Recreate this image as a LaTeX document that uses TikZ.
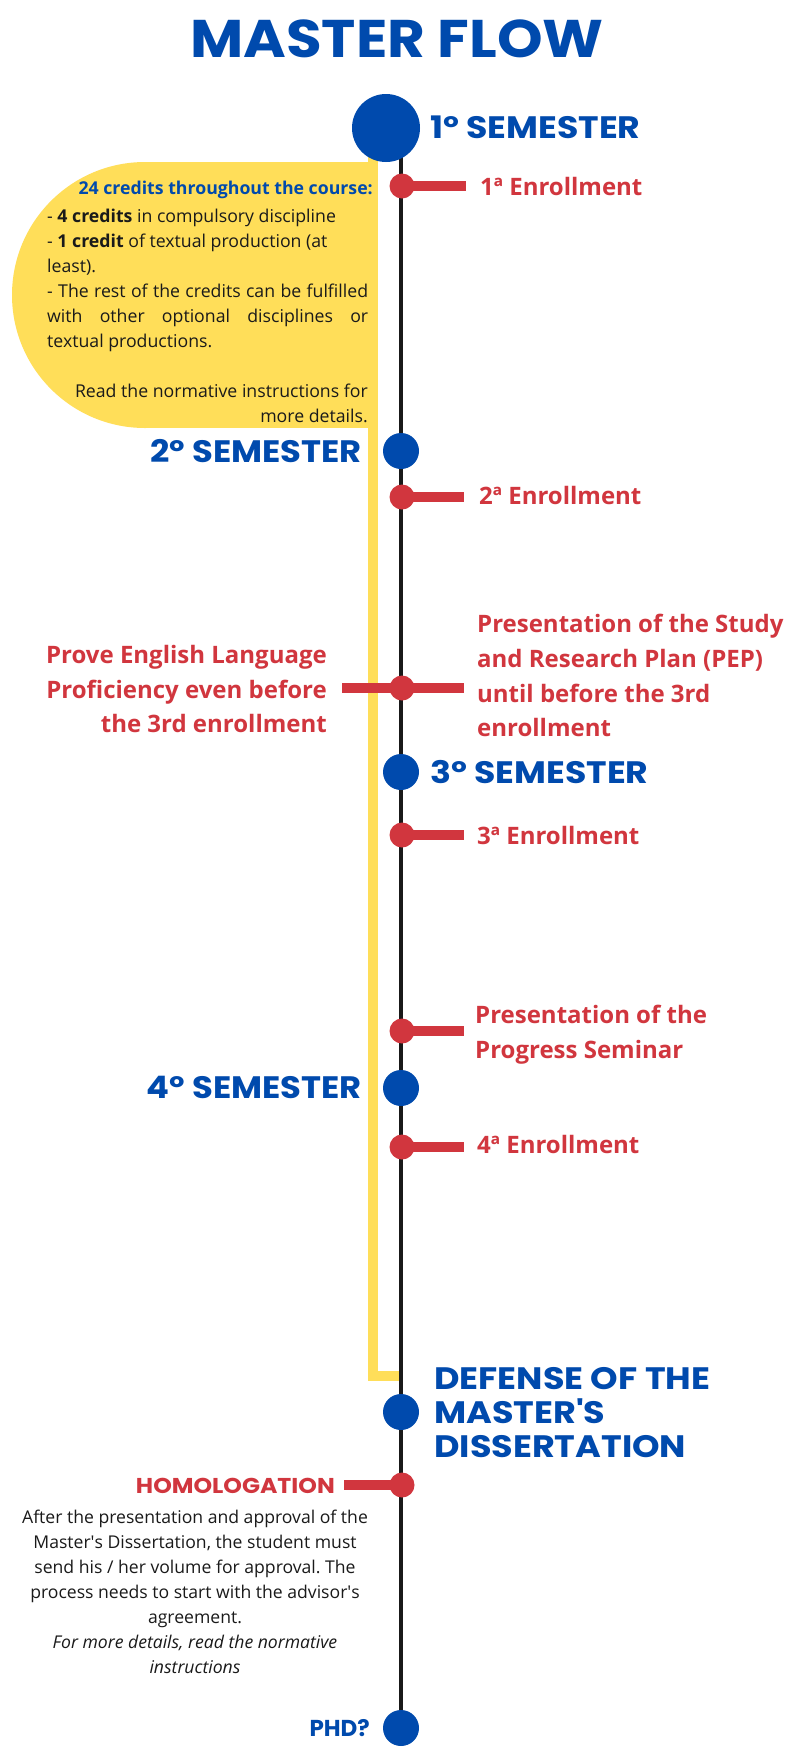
\documentclass[tikz,border=0pt]{standalone}
\usepackage{graphicx}
\usepackage{fontspec}
\setmainfont{Open Sans}
\newfontfamily\disp{Poppins}
\newcommand\wdn[2]{\scalebox{#1}[1]{#2}}
\newcommand\sq{{\XeTeXglyph\XeTeXcharglyph"27\relax}}
\frenchspacing
\definecolor{mblue}{HTML}{004AAD}
\definecolor{mred}{HTML}{D1363E}
\definecolor{myellow}{HTML}{FFDE59}
\definecolor{mtext}{HTML}{1A1A1A}
\begin{document}
\begin{tikzpicture}[x=1pt,y=-1pt,
  bigdot/.style={circle, fill=mblue, inner sep=0pt, minimum size=68pt},
  bluedot/.style={circle, fill=mblue, inner sep=0pt, minimum size=36pt},
  reddot/.style={circle, fill=mred, inner sep=0pt, minimum size=25pt},
  redbar/.style={draw=mred, line width=10pt},
  ylw/.style={draw=myellow, line width=10pt},
  spine/.style={draw=black!90, line width=4pt},
  titlelbl/.style={font=\disp\bfseries\fontsize{53}{53}\selectfont, text=mblue, inner sep=0pt},
  semlbl/.style={font=\disp\bfseries\fontsize{31}{31}\selectfont, text=mblue, inner sep=0pt},
  homlbl/.style={font=\disp\bfseries\fontsize{21.5}{21.5}\selectfont, text=mred, inner sep=0pt},
  evlbl/.style={font=\bfseries\fontsize{24}{24}\selectfont, text=mred, inner sep=0pt},
  boxtxt/.style={font=\fontsize{17.7}{17.7}\selectfont, text=mtext, inner sep=0pt},
  partxt/.style={font=\fontsize{17.6}{17.6}\selectfont, text=mtext, inner sep=0pt}
]
\useasboundingbox (0,0) rectangle (795,1754);
\fill[white] (0,0) rectangle (795,1754);

% title
\node[titlelbl, anchor=base] (title) at (397,57) {\wdn{1.094}{MASTER FLOW}};

% yellow note shape
\fill[myellow] (145,295) circle[radius=133pt];
\fill[myellow] (145,162) rectangle (377,428);
\coordinate (ytop) at (373,157);
\coordinate (ycorner) at (373,1375.5);
\coordinate (yend) at (399,1375.5);
\draw[ylw] (ytop) -- (ycorner) -- (yend);

% spine
\coordinate (spinetop) at (401,140);
\coordinate (spinebot) at (401,1728);
\draw[spine] (spinetop) -- (spinebot);

% events bars
\coordinate (e1c) at (402,186);
\coordinate (e2c) at (402,497);
\coordinate (pepc) at (402,688);
\coordinate (e3c) at (402,835);
\coordinate (prgc) at (402,1031);
\coordinate (e4c) at (402,1147);
\coordinate (homc) at (402,1485);
\coordinate (e1end) at (466,186);
\coordinate (e2end) at (464,497);
\coordinate (pepR) at (464,688);
\coordinate (pepL) at (342,688);
\coordinate (e3end) at (464,835);
\coordinate (prgend) at (464,1031);
\coordinate (e4end) at (464,1147);
\coordinate (homend) at (344,1485);
\draw[redbar] (e1c) -- (e1end);
\draw[redbar] (e2c) -- (e2end);
\draw[redbar] (pepL) -- (pepR);
\draw[redbar] (e3c) -- (e3end);
\draw[redbar] (prgc) -- (prgend);
\draw[redbar] (e4c) -- (e4end);
\draw[redbar] (homc) -- (homend);
\node[reddot] (e1) at (e1c) {};
\node[reddot] (e2) at (e2c) {};
\node[reddot] (pep) at (pepc) {};
\node[reddot] (e3) at (e3c) {};
\node[reddot] (prg) at (prgc) {};
\node[reddot] (e4) at (e4c) {};
\node[reddot] (hom) at (homc) {};

% main nodes on the timeline
\node[bigdot] (s1) at (386,128) {};
\node[bluedot] (s2) at (401,451) {};
\node[bluedot] (s3) at (401,772) {};
\node[bluedot] (s4) at (401,1088) {};
\node[bluedot] (def) at (401,1412) {};
\node[bluedot] (phd) at (spinebot) {};

% semester labels
\node[semlbl, anchor=base west] (l1) at (430,138) {\wdn{1.12}{1º SEMESTER}};
\node[semlbl, anchor=base east] (l2) at (362,462) {\wdn{1.09}{2º SEMESTER}};
\node[semlbl, anchor=base west] (l3) at (430,783) {\wdn{1.12}{3º SEMESTER}};
\node[semlbl, anchor=base east] (l4) at (362,1098) {\wdn{1.09}{4º SEMESTER}};
\node[semlbl, anchor=base west] (d1) at (434,1389) {\wdn{1.13}{DEFENSE OF THE}};
\node[semlbl, anchor=base west] (d2) at (434,1423) {\wdn{1.13}{MASTER'S}};
\node[semlbl, anchor=base west] (d3) at (434,1457) {\wdn{1.13}{DISSERTATION}};
\node[semlbl, font=\disp\bfseries\fontsize{23}{23}\selectfont, anchor=base east] (phdl) at (370,1736) {PHD?};
\node[homlbl, anchor=base east] (homl) at (335,1493) {\wdn{1.1}{HOMOLOGATION}};

% event labels
\node[evlbl, anchor=base west] (t1) at (480,195) {1ª Enrollment};
\node[evlbl, anchor=base west] (t2) at (479,504) {2ª Enrollment};
\node[evlbl, anchor=base west] (tp1) at (477,632) {Presentation of the Study};
\node[evlbl, anchor=base west] (tp2) at (477,667) {and Research Plan (PEP)};
\node[evlbl, anchor=base west] (tp3) at (477,702) {until before the 3rd};
\node[evlbl, anchor=base west] (tp4) at (477,736) {enrollment};
\node[evlbl, anchor=base east] (te1) at (327,663) {Prove English Language};
\node[evlbl, anchor=base east] (te2) at (327,698) {Proficiency even before};
\node[evlbl, anchor=base east] (te3) at (327,732) {the 3rd enrollment};
\node[evlbl, anchor=base west] (t3) at (477,844) {3ª Enrollment};
\node[evlbl, anchor=base west] (tg1) at (475,1023) {Presentation of the};
\node[evlbl, anchor=base west] (tg2) at (475,1058) {Progress Seminar};
\node[evlbl, anchor=base west] (t4) at (477,1153) {4ª Enrollment};

% yellow note text
\node[boxtxt, font=\bfseries\fontsize{17.7}{17.7}\selectfont, text=mblue, anchor=base east] (y0) at (373,194) {24 credits throughout the course:};
\node[boxtxt, anchor=base west] (y1) at (47,222) {- \textbf{4 credits} in compulsory discipline};
\node[boxtxt, anchor=base west] (y2) at (47,247) {- \textbf{1 credit} of textual production (at};
\node[boxtxt, anchor=base west] (y3) at (47,272) {least).};
\node[boxtxt, anchor=base west] (y4) at (47,297) {\makebox[321pt][s]{- The rest of the credits can be fulfilled}};
\node[boxtxt, anchor=base west] (y5) at (47,322) {\makebox[321pt][s]{with other optional disciplines or}};
\node[boxtxt, anchor=base west] (y6) at (47,347) {textual productions.};
\node[boxtxt, anchor=base east] (y7) at (368,397) {Read the normative instructions for};
\node[boxtxt, anchor=base east] (y8) at (368,422) {more details.};

% homologation paragraph
\node[partxt, anchor=base] (h1) at (195,1523) {After the presentation and approval of the};
\node[partxt, anchor=base] (h2) at (195,1548) {Master\sq s Dissertation, the student must};
\node[partxt, anchor=base] (h3) at (195,1573) {send his / her volume for approval. The};
\node[partxt, anchor=base] (h4) at (195,1598) {process needs to start with the advisor\sq s};
\node[partxt, anchor=base] (h5) at (195,1623) {agreement.};
\node[partxt, anchor=base] (h6) at (195,1648) {\itshape For more details, read the normative};
\node[partxt, anchor=base] (h7) at (195,1673) {\itshape instructions};
\end{tikzpicture}
\end{document}
